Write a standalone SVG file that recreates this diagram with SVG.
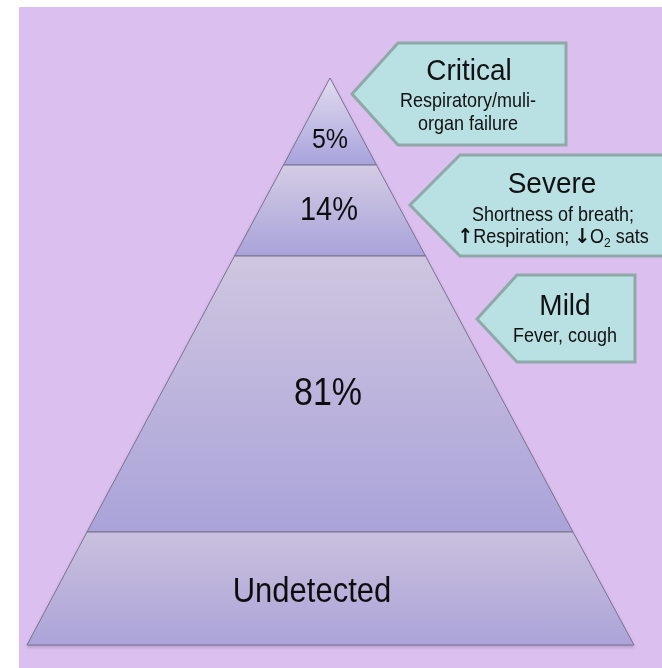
<svg xmlns="http://www.w3.org/2000/svg" width="662" height="668" viewBox="0 0 662 668">
<defs>
<linearGradient id="g1" x1="0" y1="0" x2="0" y2="1"><stop offset="0" stop-color="#e2dbef"/><stop offset="1" stop-color="#a7a3dc"/></linearGradient>
<linearGradient id="g2" x1="0" y1="0" x2="0" y2="1"><stop offset="0" stop-color="#d4cce4"/><stop offset="1" stop-color="#a9a3da"/></linearGradient>
<linearGradient id="g3" x1="0" y1="0" x2="0" y2="1"><stop offset="0" stop-color="#cfc6e0"/><stop offset="1" stop-color="#aaa3d9"/></linearGradient>
<linearGradient id="g4" x1="0" y1="0" x2="0" y2="1"><stop offset="0" stop-color="#cac0de"/><stop offset="1" stop-color="#aca4d9"/></linearGradient>
<filter id="sh" x="-10%" y="-10%" width="120%" height="120%"><feDropShadow dx="0" dy="2" stdDeviation="1.5" flood-color="#6a5a80" flood-opacity="0.35"/></filter>
</defs>
<style>
.band{stroke:#77738f;stroke-width:1}
.box{fill:#b9e0e3;stroke:#8ea9a7;stroke-width:3;stroke-linejoin:miter}
text{font-family:"Liberation Sans",Arial,sans-serif;fill:#111;text-anchor:middle}
.t{font-size:28px}
.s{font-size:18px}
.ar{font-family:"DejaVu Sans",sans-serif;font-weight:bold;font-size:19px}
</style>
<rect x="0" y="0" width="662" height="668" fill="#ffffff"/>
<rect x="19" y="7" width="643" height="661" fill="#dbbfef"/>
<g id="pyramid" filter="url(#sh)">
<g id="band-critical"><polygon class="band" points="330,78 376.5,165 283.5,165" fill="url(#g1)"/><text transform="translate(330,148) scale(1,1.12)" style="font-size:25px">5%</text></g>
<g id="band-severe"><polygon class="band" points="283.5,165 376.5,165 425.5,256 234.5,256" fill="url(#g2)"/><text transform="translate(329,220) scale(1,1.12)" style="font-size:29px">14%</text></g>
<g id="band-mild"><polygon class="band" points="234.5,256 425.5,256 573,532 87,532" fill="url(#g3)"/><text transform="translate(328,405) scale(1,1.14)" style="font-size:34px">81%</text></g>
<g id="band-undetected"><polygon class="band" points="87,532 573,532 634,645 27,645" fill="url(#g4)"/><text transform="translate(312,602) scale(1,1.12)" style="font-size:31px">Undetected</text></g>
</g>
<g id="connectors"/>
<g id="callout-critical">
<polygon class="box" points="352,94 398,43 566,43 566,145 398,145"/>
<text class="t" transform="translate(469,80) scale(1,1.08)">Critical</text>
<text class="s" transform="translate(468,107) scale(1,1.08)">Respiratory/muli-</text>
<text class="s" transform="translate(468,130) scale(1,1.08)">organ failure</text>
</g>
<g id="callout-severe">
<polygon class="box" points="410,205 460,155 672,155 672,256 460,256"/>
<text class="t" transform="translate(552,193) scale(1,1.08)">Severe</text>
<text class="s" transform="translate(553,221) scale(1,1.08)">Shortness of breath;</text>
<text class="s" transform="translate(553,243) scale(1,1.08)"><tspan class="ar">↑</tspan>Respiration; <tspan class="ar">↓</tspan>O<tspan style="font-size:12px" dy="4">2</tspan><tspan dy="-4"> sats</tspan></text>
</g>
<g id="callout-mild">
<polygon class="box" points="477,319 517,275 635,275 635,362 517,362"/>
<text class="t" transform="translate(565,315) scale(1,1.08)">Mild</text>
<text class="s" transform="translate(565,342) scale(1,1.08)">Fever, cough</text>
</g>
</svg>
